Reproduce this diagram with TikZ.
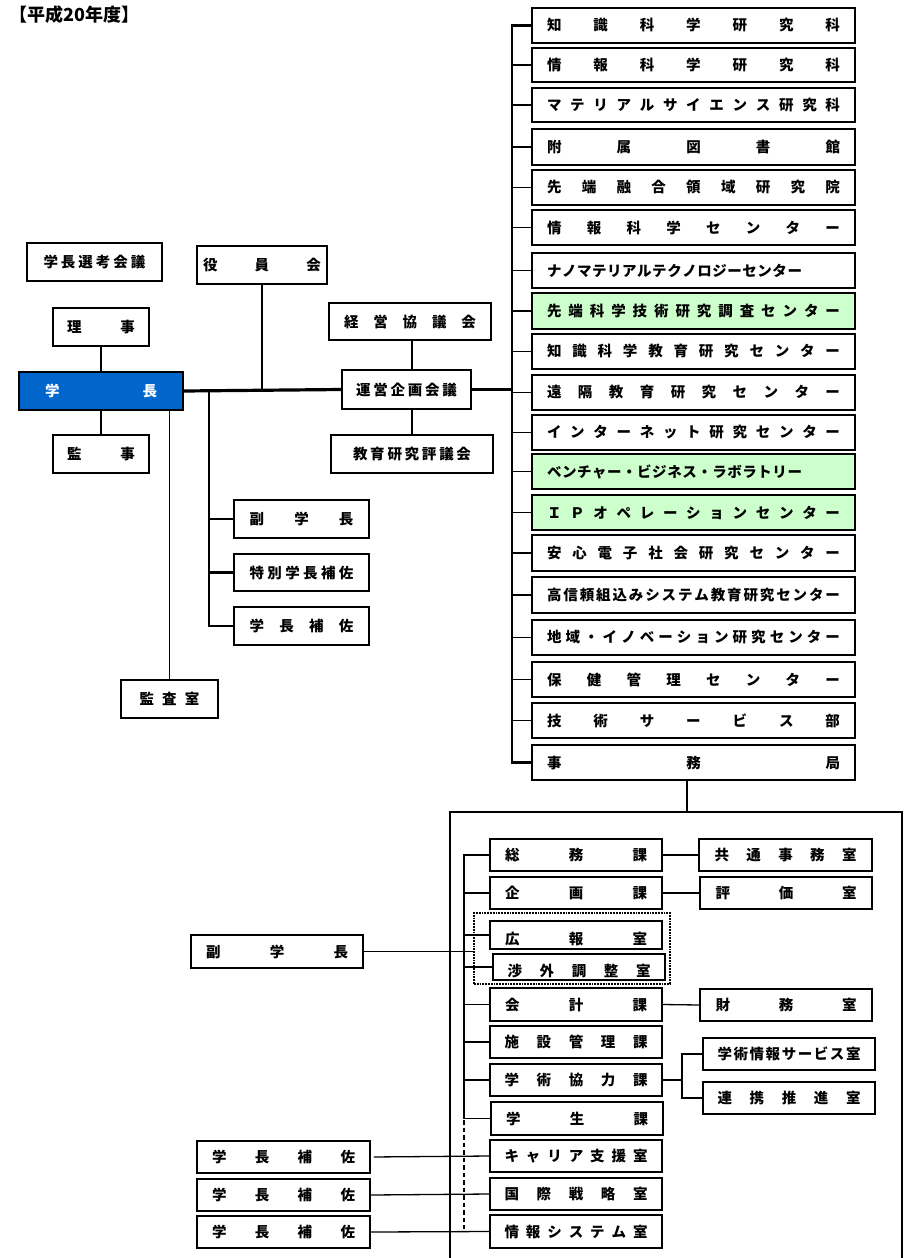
\documentclass[tikz,border=0pt]{standalone}
\usepackage{fontspec}
\setmainfont{Noto Sans CJK JP}
\makeatletter
\newcommand\dist[2]{\hbox to #1pt{\let\dist@sep\relax\@tfor\dist@c:=#2\do{\dist@sep\dist@c\let\dist@sep\hfill}}}
\makeatother
\newcommand\lowtxt[1]{\raisebox{-5pt}[10pt][2pt]{#1}}
\newcommand\bx[7][]{\node[box,#1,minimum width={(#5-#3)*1pt},minimum height={(#6-#4)*1pt}] (#2) at ({(#3+#5)/2},{(#4+#6)/2}) {#7};}
\definecolor{gblue}{RGB}{0,102,204}
\definecolor{lgreen}{RGB}{204,255,204}
\begin{document}
\begin{tikzpicture}[x=1pt,y=-1pt,
  box/.style={draw, line width=1.5pt, inner sep=0pt, fill=white, font=\bfseries\fontsize{14.5}{16}\selectfont},
  green/.style={fill=lgreen},
  conn/.style={line width=1.6pt},
  thin/.style={line width=1.3pt},
  thick1/.style={line width=2.2pt},
  mainline/.style={line width=3.2pt},
  dotbox/.style={draw, densely dotted, line width=1.8pt, inner sep=0pt},
  dashline/.style={line width=1.8pt, dash pattern=on 4.5pt off 3pt}]
\useasboundingbox (0,0) rectangle (908,1258);
\fill[white] (0,0) rectangle (908,1258);

\node[anchor=west, inner sep=0pt, font=\bfseries\fontsize{18}{20}\selectfont] (title) at (9,15) {【平成20年度】};

% left / central boxes
\bx{senko}{27}{243}{162}{281}{\dist{102}{学長選考会議}}
\bx{yakuin}{197}{246}{327}{284}{\dist{118}{役員会}}
\bx{riji}{53}{308}{149}{346}{\dist{68}{理事}}
\bx[fill=gblue,text=white]{gakucho}{19}{372}{183}{410}{\dist{112}{学長}}
\bx{kanji}{53}{435}{149}{473}{\dist{68}{監事}}
\bx{keiei}{329}{303}{491}{340}{\dist{132}{経営協議会}}
\bx{unei}{342}{370}{471}{409}{\dist{101}{運営企画会議}}
\bx{kyoiku}{331}{435}{493}{473}{\dist{118}{教育研究評議会}}
\bx{fuku}{234}{500}{369}{538}{\dist{104}{副学長}}
\bx{tokubetsu}{234}{554}{369}{591}{\dist{104}{特別学長補佐}}
\bx{hosa}{234}{607}{369}{645}{\dist{104}{学長補佐}}
\bx{kansa}{121}{680}{218}{718}{\dist{60}{監査室}}

% right column
\bx{r1}{532}{8}{855}{43}{\dist{293}{知識科学研究科}}
\bx{r2}{532}{48}{855}{82}{\dist{293}{情報科学研究科}}
\bx{r3}{532}{88}{855}{122}{\dist{293}{マテリアルサイエンス研究科}}
\bx{r4}{532}{129}{855}{165}{\dist{293}{附属図書館}}
\bx{r5}{532}{170}{855}{205}{\dist{293}{先端融合領域研究院}}
\bx{r6}{532}{210}{855}{245}{\dist{293}{情報科学センター}}
\bx{r7}{532}{253}{855}{288}{\hbox to 293pt{\dist{255}{ナノマテリアルテクノロジーセンター}\hfil}}
\bx[green]{r8}{532}{293}{855}{329}{\dist{293}{先端科学技術研究調査センター}}
\bx{r9}{532}{334}{855}{369}{\dist{293}{知識科学教育研究センター}}
\bx{r10}{532}{375}{855}{410}{\dist{293}{遠隔教育研究センター}}
\bx{r11}{532}{415}{855}{450}{\dist{293}{インターネット研究センター}}
\bx[green]{r12}{532}{454}{855}{489}{\hbox to 293pt{\dist{255}{ベンチャー・ビジネス・ラボラトリー}\hfil}}
\bx[green]{r13}{532}{495}{855}{530}{\dist{293}{ＩＰオペレーションセンター}}
\bx{r14}{532}{535}{855}{571}{\dist{293}{安心電子社会研究センター}}
\bx{r15}{532}{577}{855}{613}{\dist{293}{高信頼組込みシステム教育研究センター}}
\bx[line width=2.1pt]{r16}{532}{620}{855}{655}{\dist{293}{地域・イノベーション研究センター}}
\bx{r17}{532}{662}{855}{697}{\dist{293}{保健管理センター}}
\bx{r18}{532}{703}{855}{738}{\dist{293}{技術サービス部}}
\bx{r19}{532}{745}{855}{780}{\dist{293}{事務局}}

% connectors upper part
\draw[thin] (riji.south) -- (gakucho.north);
\draw[thin] (gakucho.south) -- (kanji.north);
\draw[mainline] (gakucho.east) -- (unei.west);
\coordinate (trx) at (512,0);
\draw[mainline] (unei.east) -- (unei.east -| trx);
\draw[conn] (yakuin.south) -- (yakuin.south |- gakucho.east);
\draw[conn] (keiei.south -| kyoiku.north) -- (unei.north -| kyoiku.north);
\draw[conn] (kyoiku.north) -- (kyoiku.north |- unei.south);
\draw[conn] (kansa.north) -- (kansa.north |- gakucho.south);
\coordinate (vx) at (209,392);
\draw[thick1] (vx) |- (hosa.west);
\draw[thick1] (fuku.west) -- (fuku.west -| vx);
\draw[thick1] (tokubetsu.west) -- (tokubetsu.west -| vx);
\draw[thick1] (r1.west) -| (r19.west -| trx) -- (r19.west);
\foreach \i in {2,...,18} {\draw[conn] (r\i.west) -- (r\i.west -| trx);}

% office frame
\coordinate (jx) at (687,0);
\coordinate (bigtop) at (687,812);
\draw[conn] (r19.south -| jx) -- (bigtop);
\draw[conn] (450,1262) |- (902,812) -- (902,1262);

% office boxes
\node[dotbox, minimum width=196pt, minimum height=71pt] (kohogrp) at (572,948.5) {};
\bx{somu}{490}{839}{662}{871}{\dist{142}{総務課}}
\bx{kikaku}{490}{877}{662}{909}{\dist{142}{企画課}}
\bx{koho}{490}{921}{662}{949}{\lowtxt{\dist{142}{広報室}}}
\bx{shogai}{493}{954}{665}{980}{\lowtxt{\dist{143}{渉外調整室}}}
\bx{kaikei}{490}{988}{662}{1021}{\dist{142}{会計課}}
\bx{shisetsu}{490}{1026}{662}{1058}{\dist{143}{施設管理課}}
\bx{gakujutsu}{490}{1064}{662}{1096}{\dist{143}{学術協力課}}
\bx{gakusei}{491}{1102}{663}{1135}{\dist{142}{学生課}}
\bx{career}{490}{1140}{662}{1172}{\dist{143}{キャリア支援室}}
\bx{kokusai}{490}{1178}{662}{1210}{\dist{143}{国際戦略室}}
\bx{joho}{490}{1215}{662}{1248}{\dist{143}{情報システム室}}
\bx{kyotsu}{699}{839}{872}{871}{\dist{142}{共通事務室}}
\bx{hyoka}{700}{877}{872}{909}{\dist{141}{評価室}}
\bx{zaimu}{700}{989}{872}{1021}{\dist{141}{財務室}}
\bx{service}{703}{1038}{875}{1070}{\dist{143}{学術情報サービス室}}
\bx{renkei}{703}{1082}{875}{1114}{\dist{143}{連携推進室}}
\bx{fuku2}{191}{935}{363}{968}{\dist{142}{副学長}}
\bx{hosa1}{197}{1141}{370}{1173}{\dist{143}{学長補佐}}
\bx{hosa2}{197}{1179}{370}{1211}{\dist{143}{学長補佐}}
\bx{hosa3}{197}{1216}{370}{1248}{\dist{143}{学長補佐}}

% office connectors
\coordinate (it) at (464,0);
\draw[thin] (somu.west) -| (gakusei.west -| it) -- (gakusei.west);
\foreach \n in {kikaku,koho,shogai,kaikei,shisetsu,gakujutsu} {\draw[thin] (\n.west) -- (\n.west -| it);}
\draw[dashline] ([yshift=6pt]gakusei.west -| it) -- ([yshift=3pt]joho.west -| it);
\draw[thin] (somu.east) -- (kyotsu.west);
\draw[thin] (kikaku.east) -- (hyoka.west);
\draw[thin] (kaikei.east) -- (zaimu.west);
\coordinate (gx) at (682,0);
\draw[thick1] (gakujutsu.east) -- (gakujutsu.east -| gx);
\draw[thin] (service.west) -| (renkei.west -| gx) -- (renkei.west);
\draw[thin] (fuku2.east) -- (fuku2.east -| kohogrp.west);
\draw[thin, shorten <=3pt] (hosa1.east) -- (career.west);
\draw[thin] (hosa2.east) -- (kokusai.west);
\draw[thin] (hosa3.east) -- (joho.west);
\end{tikzpicture}
\end{document}
